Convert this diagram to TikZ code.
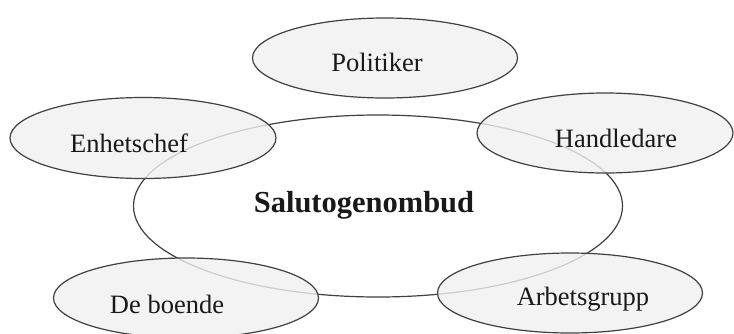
\documentclass[tikz,border=0pt]{standalone}
\usepackage{fontspec}
\setmainfont{Liberation Serif}
\usetikzlibrary{shapes.geometric}
\begin{document}
\begin{tikzpicture}[x=1pt,y=-1pt,
  ell/.style={ellipse, draw=black!75, line width=1.2pt, inner sep=0pt},
  sat/.style={ell, fill=black!6, fill opacity=0.8},
  lbl/.style={inner sep=0pt, text=black!90, font=\fontsize{26.5}{30}\selectfont},
  mainlbl/.style={inner sep=0pt, text=black!90, font=\fontsize{30.5}{34}\selectfont\bfseries}]
\useasboundingbox (0,0) rectangle (734,333);
\fill[white] (0,0) rectangle (734,333);
\node[ell, minimum width=489pt, minimum height=182pt] (c) at (378,206) {};
\node[sat, minimum width=265pt, minimum height=80pt] (pol) at (385,58) {};
\node[sat, minimum width=266pt, minimum height=81pt] (enh) at (143,138) {};
\node[sat, minimum width=256pt, minimum height=80pt] (han) at (605,133) {};
\node[sat, minimum width=265pt, minimum height=80pt] (boe) at (186,298) {};
\node[sat, minimum width=265pt, minimum height=80pt] (arb) at (570,293) {};
\node[mainlbl] (tc) at (364,205) {Salutogenombud};
\node[lbl] (tpol) at (377,62) {Politiker};
\node[lbl] (tenh) at (129,143) {Enhetschef};
\node[lbl] (than) at (616,138) {Handledare};
\node[lbl] (tboe) at (167,304) {De boende};
\node[lbl] (tarb) at (583,299) {Arbetsgrupp};
\end{tikzpicture}
\end{document}
